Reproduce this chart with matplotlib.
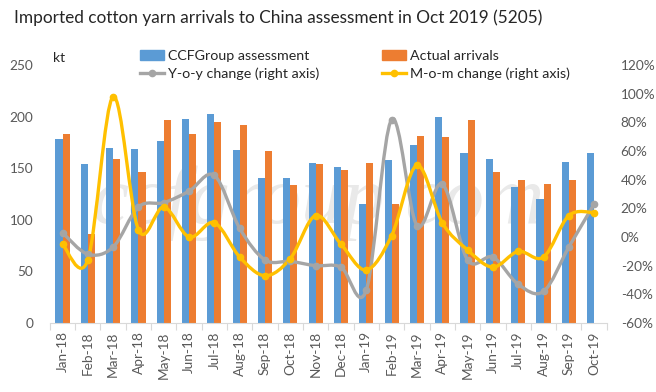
import numpy as np
import matplotlib
import matplotlib.pyplot as plt
from matplotlib.path import Path
from matplotlib.patches import PathPatch, Patch
from matplotlib.lines import Line2D

matplotlib.rcParams.update({
    'font.family': ['Lato', 'DejaVu Sans'],
    'font.size': 9.5,
    'axes.linewidth': 0.6,
})

months = ['Jan-18', 'Feb-18', 'Mar-18', 'Apr-18', 'May-18', 'Jun-18', 'Jul-18',
          'Aug-18', 'Sep-18', 'Oct-18', 'Nov-18', 'Dec-18', 'Jan-19', 'Feb-19',
          'Mar-19', 'Apr-19', 'May-19', 'Jun-19', 'Jul-19', 'Aug-19', 'Sep-19',
          'Oct-19']
ccf_assess = [178, 154, 170, 169, 176, 198, 203, 168, 141, 141, 155, 151,
              115, 158, 173, 200, 165, 159, 132, 120, 156, 165]
actual = [183, 86, 159, 146, 197, 183, 195, 192, 167, 134, 154, 148,
          155, 115, 181, 180, 197, 146, 139, 135, 139, np.nan]
yoy = [3, -12, -7, 21, 24, 32, 43, 6, -16, -17, -20, -21,
       -37, 82, 8, 37, -16, -14, -33, -38, -7, 23]
mom = [-5, -16, 98, 5, 21, 0, 10, -14, -27, -15, 15, -5,
       -23, 1, 50, 10, -9, -21, -10, -14, 15, 17]

BLUE = '#5B9BD5'
ORANGE = '#ED7D31'
GRAY = '#A5A5A5'
YELLOW = '#FFC000'
TXT = '#595959'


def smooth_path(x, y, t=1.0):
    # Catmull-Rom style cubic segments, like Excel's smoothed line
    pts = np.column_stack([x, y]).astype(float)
    n = len(pts)
    verts = [pts[0]]
    codes = [Path.MOVETO]
    for i in range(n - 1):
        p0 = pts[i - 1] if i > 0 else pts[i]
        p1 = pts[i]
        p2 = pts[i + 1]
        p3 = pts[i + 2] if i + 2 < n else pts[i + 1]
        c1 = p1 + (p2 - p0) * t / 6
        c2 = p2 - (p3 - p1) * t / 6
        verts += [c1, c2, p2]
        codes += [Path.CURVE4] * 3
    return Path(verts, codes)


fig = plt.figure(figsize=(6.56, 3.92), dpi=100)
ax = fig.add_axes([0.076, 0.176, 0.849, 0.658])
ax2 = ax.twinx()
ax.patch.set_alpha(0)
ax2.patch.set_alpha(0)

# watermark, behind everything
fig.text(318 / 656, 169 / 392, 'ccfgroup.com', ha='center', va='baseline',
         fontsize=60, family='Liberation Serif', style='italic', color='#e9e9e9',
         zorder=-5)

x = np.arange(len(months))
w = 0.28
ax.bar(x - w / 2, ccf_assess, w, color=BLUE, zorder=2)
ax.bar(x + w / 2, actual, w, color=ORANGE, zorder=2)

for vals, col in [(yoy, GRAY), (mom, YELLOW)]:
    ax2.add_patch(PathPatch(smooth_path(x, vals), facecolor='none', edgecolor=col,
                            linewidth=2.4, capstyle='round', zorder=3))
    ax2.plot(x, vals, linestyle='none', marker='o', markersize=4.5, color=col, zorder=4)

ax.set_xlim(-0.5, len(months) - 0.5)
ax.set_ylim(0, 250)
ax2.set_ylim(-60, 120)
ax.set_yticks(range(0, 251, 50))
ax2.set_yticks(range(-60, 121, 20))
ax2.set_yticklabels([f'{v}%' for v in range(-60, 121, 20)])

ax.set_xticks(x)
ax.set_xticklabels(months, rotation=90)
ax.set_xticks(np.arange(-0.5, len(months)), minor=True)
ax.tick_params(axis='x', which='major', length=0, pad=6, colors=TXT, labelsize=9.8)
ax.tick_params(axis='x', which='minor', length=5, color='#D9D9D9', width=0.8)
ax.tick_params(axis='y', length=0, pad=12, colors=TXT, labelsize=9.8)
ax2.tick_params(axis='y', length=0, pad=10, colors=TXT, labelsize=9.8)

for a in (ax, ax2):
    for s in ('top', 'left', 'right'):
        a.spines[s].set_visible(False)
ax.spines['bottom'].set_color('#D9D9D9')
ax.spines['bottom'].set_linewidth(0.8)
ax2.spines['bottom'].set_visible(False)

fig.text(0.021, 0.955, 'Imported cotton yarn arrivals to China assessment in Oct 2019 (5205)',
         fontsize=12.4, color='#262626', va='center')
fig.text(0.081, 0.852, 'kt', fontsize=10, color='#262626', va='center')

line_kw = dict(lw=2.4, marker='o', markersize=4.5)
leg_kw = dict(loc='upper left', frameon=False, fontsize=10.3, handlelength=1.7,
              handleheight=0.7, labelspacing=0.38, handletextpad=0.25,
              borderpad=0, borderaxespad=0)
leg1 = fig.legend([Patch(color=BLUE), Line2D([], [], color=GRAY, **line_kw)],
                  ['CCFGroup assessment', 'Y-o-y change (right axis)'],
                  bbox_to_anchor=(140 / 656, 1 - 50 / 392), **leg_kw)
leg2 = fig.legend([Patch(color=ORANGE), Line2D([], [], color=YELLOW, **line_kw)],
                  ['Actual arrivals', 'M-o-m change (right axis)'],
                  bbox_to_anchor=(382 / 656, 1 - 50 / 392), **leg_kw)
for leg in (leg1, leg2):
    for t in leg.get_texts():
        t.set_color('#262626')

fig.savefig('out.png', dpi=100)
